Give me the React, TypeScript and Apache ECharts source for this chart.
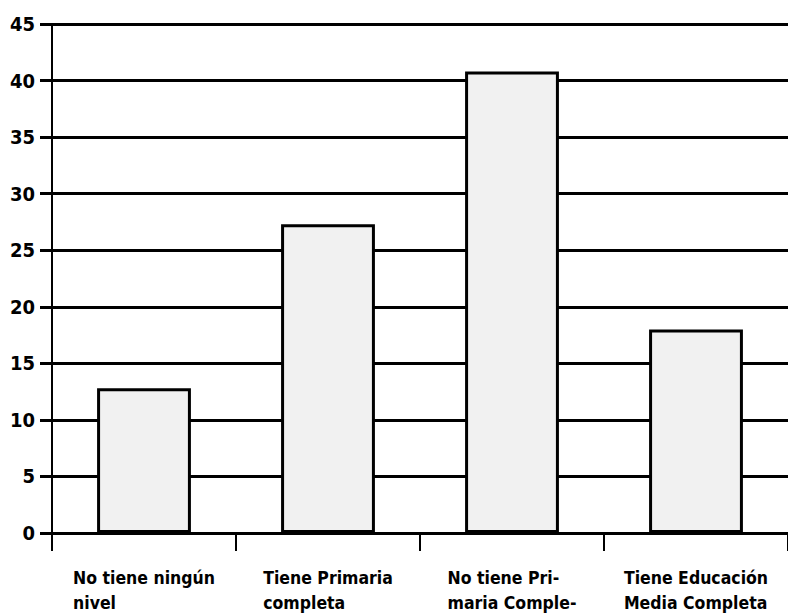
import React, { useEffect, useRef } from "react";
import * as echarts from "echarts";

const categories = [
  "No tiene ningún\nnivel",
  "Tiene Primaria\ncompleta",
  "No tiene Pri-\nmaria Comple-",
  "Tiene Educación\nMedia Completa",
];
const values = [12.8, 27.3, 40.8, 18.0];
const yMin = 0;
const yMax = 45;
const yInterval = 5;

const FONT = '"DejaVu Sans Condensed", "Liberation Sans Narrow", "Roboto", sans-serif';

export default function App() {
  const ref = useRef<HTMLDivElement>(null);
  useEffect(() => {
    if (!ref.current) return;
    const chart = echarts.init(ref.current, null, { renderer: "svg" });
    chart.setOption({
      animation: false,
      backgroundColor: "#ffffff",
      grid: { left: 52, right: -3, top: 24, bottom: 80, containLabel: false },
      xAxis: {
        type: "category",
        data: categories,
        boundaryGap: true,
        axisLine: { show: true, lineStyle: { color: "#000", width: 3 } },
        axisTick: { show: true, length: 18, alignWithLabel: false, lineStyle: { color: "#000", width: 2 } },
        splitLine: { show: false },
        axisLabel: {
          margin: 32,
          interval: 0,
          align: "center",
          verticalAlign: "top",
          color: "#000",
          fontFamily: FONT,
          fontWeight: "bold",
          fontSize: 17.5,
          lineHeight: 25,
          formatter: (v: string) => v.split("\n").map((l) => `{a|${l}}`).join("\n"),
          rich: {
            a: {
              align: "left",
              color: "#000",
              fontFamily: FONT,
              fontWeight: "bold",
              fontSize: 17.5,
              lineHeight: 25,
            },
          },
        },
      },
      yAxis: {
        type: "value",
        min: yMin,
        max: yMax,
        interval: yInterval,
        axisLine: { show: true, lineStyle: { color: "#000", width: 2 } },
        axisTick: { show: true, length: 12, lineStyle: { color: "#000", width: 3 } },
        splitLine: { show: true, lineStyle: { color: "#000", width: 3 } },
        axisLabel: {
          margin: 17,
          color: "#000",
          fontFamily: FONT,
          fontWeight: "bold",
          fontSize: 20,
        },
      },
      series: [
        {
          type: "bar",
          data: values,
          barWidth: "51%",
          itemStyle: { color: "#f1f1f1", borderColor: "#000", borderWidth: 3 },
        },
      ],
    });
    return () => chart.dispose();
  }, []);
  return (
    <div
      ref={ref}
      style={{ position: "fixed", left: 0, top: 0, width: 788, height: 615 }}
    />
  );
}
